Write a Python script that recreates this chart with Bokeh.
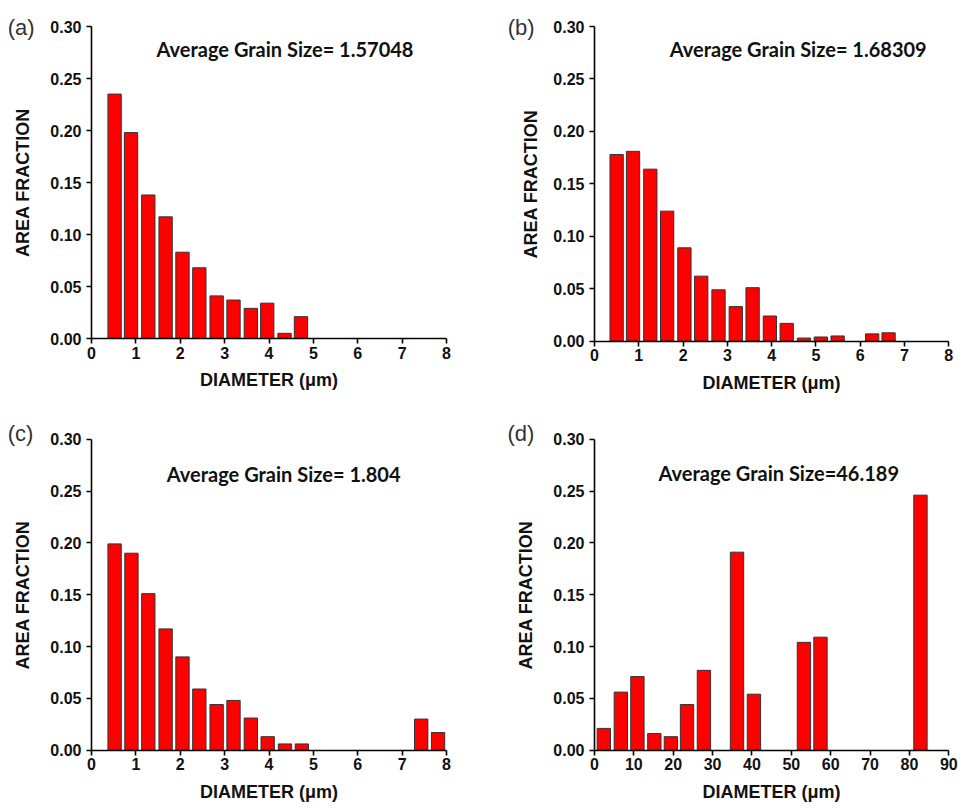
from bokeh.plotting import figure
from bokeh.models import Range1d, FixedTicker, NumeralTickFormatter, Label, ColumnDataSource
from bokeh.layouts import column, row
from bokeh.embed import file_html
from bokeh.resources import INLINE

# ---- data ----
a_x = [0.52, 0.89, 1.28, 1.67, 2.05, 2.43, 2.82, 3.20, 3.59, 3.96, 4.35, 4.72]
a_y = [0.235, 0.198, 0.138, 0.117, 0.083, 0.068, 0.041, 0.037, 0.029, 0.034, 0.005, 0.021]

b_x = [0.50, 0.87, 1.26, 1.64, 2.03, 2.41, 2.80, 3.19, 3.57, 3.96, 4.34, 4.73, 5.11, 5.49, 6.27, 6.64]
b_y = [0.178, 0.181, 0.164, 0.124, 0.089, 0.062, 0.049, 0.033, 0.051, 0.024, 0.017, 0.003, 0.004, 0.005, 0.007, 0.008]

c_x = [0.52, 0.90, 1.28, 1.67, 2.05, 2.43, 2.82, 3.20, 3.59, 3.97, 4.36, 4.74, 7.43, 7.81]
c_y = [0.199, 0.190, 0.151, 0.117, 0.090, 0.059, 0.044, 0.048, 0.031, 0.013, 0.006, 0.006, 0.030, 0.017]

d_x = [2.37, 6.69, 10.9, 15.2, 19.4, 23.5, 27.8, 36.2, 40.5, 53.2, 57.4, 82.8]
d_y = [0.021, 0.056, 0.071, 0.016, 0.013, 0.044, 0.077, 0.191, 0.054, 0.104, 0.109, 0.246]

y_ticks = [0.0, 0.05, 0.10, 0.15, 0.20, 0.25, 0.30]
x_ticks_small = [0, 1, 2, 3, 4, 5, 6, 7, 8]
x_ticks_large = [0, 10, 20, 30, 40, 50, 60, 70, 80, 90]

titles = ["Average Grain Size= 1.57048", "Average Grain Size= 1.68309",
          "Average Grain Size= 1.804", "Average Grain Size=46.189"]
panel_tags = ["(a)", "(b)", "(c)", "(d)"]

AX_FONT = "Liberation Sans"
TITLE_FONT = "Lato"


def make_panel(xs, ys, bar_w, xmax, xticks, title, tag, cfg):
    # The frame covers the whole figure; axes are pinned at x=0 / y=0
    p = figure(width=480, height=405, min_border=0,
               x_range=Range1d(*cfg["xr"]), y_range=Range1d(*cfg["yr"]),
               output_backend="svg", toolbar_location=None, tools="")
    p.outline_line_color = None
    p.grid.visible = False
    p.background_fill_color = "white"
    p.border_fill_color = "white"

    src = ColumnDataSource(dict(x=xs, top=ys))
    p.vbar(x="x", top="top", bottom=0, width=bar_w, source=src,
           fill_color="#FF0000", line_color="#333333", line_width=1)

    for ax in (p.xaxis[0], p.yaxis[0]):
        ax.fixed_location = 0
        ax.axis_line_color = "black"
        ax.axis_line_width = 1.6
        ax.major_tick_line_color = "black"
        ax.major_tick_line_width = 1.6
        ax.major_tick_out = 5
        ax.major_tick_in = 0
        ax.minor_tick_line_color = None
        ax.major_label_text_font = AX_FONT
        ax.major_label_text_font_style = "bold"
        ax.major_label_text_font_size = "16px"
        ax.major_label_text_color = "#111111"
        ax.axis_label_text_font = AX_FONT
        ax.axis_label_text_font_style = "bold"
        ax.axis_label_text_font_size = "18px"
        ax.axis_label_text_color = "#111111"

    p.xaxis.bounds = (0, xmax)
    p.xaxis.ticker = FixedTicker(ticks=xticks)
    p.xaxis.major_label_standoff = 3
    p.xaxis.axis_label = "DIAMETER (\u03bcm)"
    p.xaxis.axis_label_standoff = cfg["xls"]

    p.yaxis.bounds = (0, 0.30)
    p.yaxis.ticker = FixedTicker(ticks=y_ticks)
    p.yaxis.formatter = NumeralTickFormatter(format="0.00")
    p.yaxis.major_label_standoff = 5
    p.yaxis.axis_label = "AREA FRACTION"
    p.yaxis.axis_label_standoff = cfg["yls"]

    p.add_layout(Label(x=cfg["tx"], y=cfg["ty"], text=title,
                       text_align="center", text_baseline="alphabetic",
                       text_font=TITLE_FONT, text_font_style="bold",
                       text_font_size="20px", text_color="#111111"))
    p.add_layout(Label(x=cfg["gx"], y=cfg["gy"], text=tag,
                       text_align="left", text_baseline="alphabetic",
                       text_font=AX_FONT, text_font_style="normal",
                       text_font_size="22px", text_color="#333333"))
    return p


cfg_a = dict(xr=(-2.051, 8.766), yr=(-0.0644, 0.325), xls=8, yls=14,
             tx=4.36, ty=0.2785, gx=-1.89, gy=0.299)
cfg_b = dict(xr=(-2.574, 8.264), yr=(-0.0613, 0.3248), xls=8, yls=9,
             tx=4.60, ty=0.2787, gx=-1.96, gy=0.2993)
cfg_c = dict(xr=(-2.051, 8.766), yr=(-0.0582, 0.3325), xls=8, yls=14,
             tx=4.33, ty=0.2666, gx=-1.89, gy=0.3055)
cfg_d = dict(xr=(-28.96, 92.97), yr=(-0.0582, 0.3325), xls=8, yls=14,
             tx=46.8, ty=0.267, gx=-22.1, gy=0.3055)

pa = make_panel(a_x, a_y, 0.30, 8, x_ticks_small, titles[0], panel_tags[0], cfg_a)
pb = make_panel(b_x, b_y, 0.30, 8, x_ticks_small, titles[1], panel_tags[1], cfg_b)
pc = make_panel(c_x, c_y, 0.30, 8, x_ticks_small, titles[2], panel_tags[2], cfg_c)
pd = make_panel(d_x, d_y, 3.39, 90, x_ticks_large, titles[3], panel_tags[3], cfg_d)

layout = column(row(pa, pb), row(pc, pd))

open("out.html", "w").write(file_html(layout, INLINE))
